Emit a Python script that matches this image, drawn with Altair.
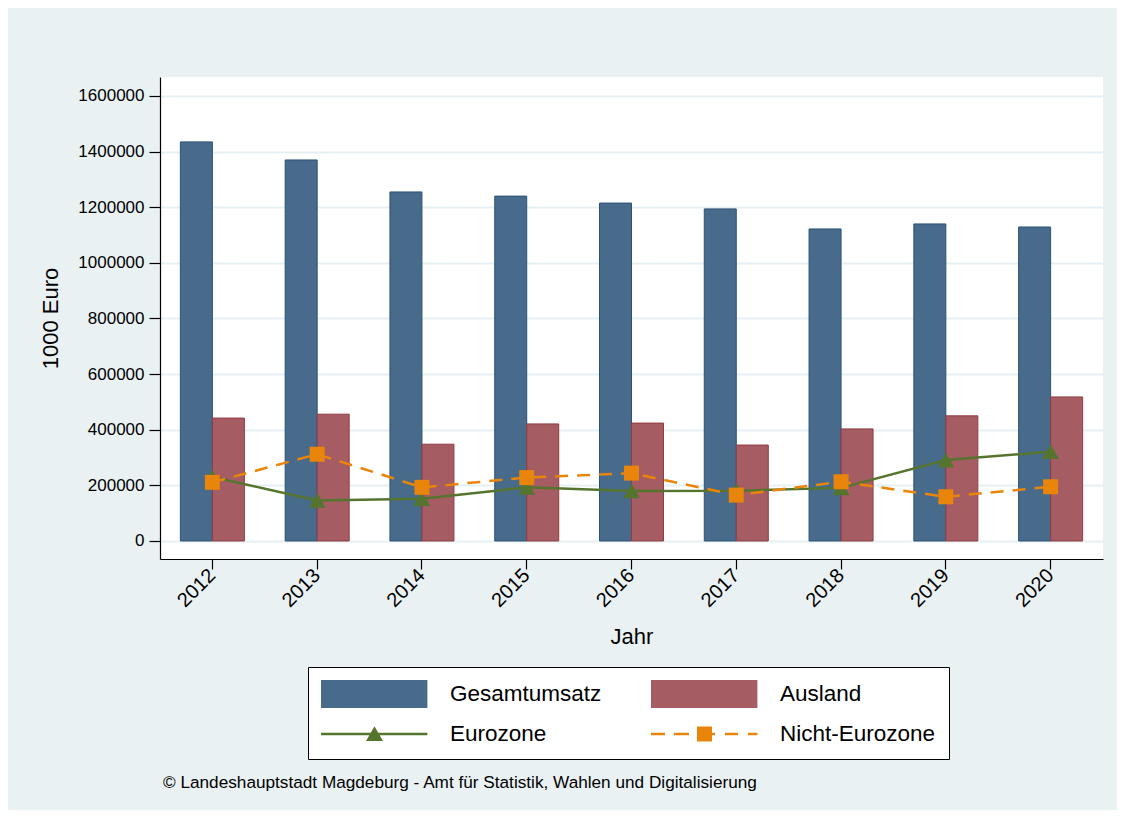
import altair as alt
import pandas as pd

# ---- data ----
years = ["2012", "2013", "2014", "2015", "2016", "2017", "2018", "2019", "2020"]
gesamtumsatz = [1435000, 1370000, 1255000, 1240000, 1215000, 1194000, 1122000, 1140000, 1129000]
ausland = [442000, 456000, 348000, 421000, 424000, 345000, 403000, 450000, 518000]
eurozone = [230000, 146000, 152000, 193000, 180000, 181000, 191000, 291000, 321000]
nicht_eurozone = [211000, 312000, 193000, 228000, 244000, 165000, 213000, 159000, 195000]

series_names = ["Gesamtumsatz", "Ausland", "Eurozone", "Nicht-Eurozone"]
series_colors = ["#486A8B", "#A55C62", "#55752F", "#E8850A"]
bar_strokes = ["#2A527A", "#923B43"]

y_ticks = list(range(0, 1600001, 100000))

FONT = "Liberation Sans"

df = pd.DataFrame({
    "Jahr": years,
    "Gesamtumsatz": gesamtumsatz,
    "Ausland": ausland,
    "Eurozone": eurozone,
    "Nicht-Eurozone": nicht_eurozone,
})
legend_df = pd.DataFrame({"Jahr": [years[0]] * 4, "Serie": series_names, "Wert": [0] * 4})

# custom legend symbols (unit = 14 px, symbolSize 784)
rect_path = "M-1,-1H6.6V1H-1Z"
euro_path = "M-1,-0.09H6.6V0.09H-1Z M2.214,0.5L2.821,-0.55L3.428,0.5Z"
nicht_path = ("M-1,-0.09H0V0.09H-1Z M0.643,-0.09H1.714V0.09H0.643Z "
              "M3.214,-0.09H3.571V0.09H3.214Z M4.286,-0.09H5.214V0.09H4.286Z "
              "M5.929,-0.09H6.6V0.09H5.929Z M2.286,-0.536H3.357V0.536H2.286Z")
legend_paths = [rect_path, rect_path, euro_path, nicht_path]

x_enc = alt.X(
    "Jahr:N",
    title="Jahr",
    sort=years,
    scale=alt.Scale(paddingInner=0, paddingOuter=0),
    axis=alt.Axis(
        labelAngle=-45, labelAlign="right", labelBaseline="middle",
        labelFontSize=20, labelPadding=3, tickSize=10,
        titleFontSize=22, titlePadding=16, grid=False,
    ),
)
y_scale = alt.Scale(domain=[-64720, 1668314], nice=False, zero=False)
y_axis = alt.Axis(
    values=y_ticks,
    labelExpr="datum.value % 200000 == 0 ? '' + datum.value : ''",
    labelFontSize=17, labelPadding=5, tickSize=11,
    titleFontSize=22, titlePadding=15,
    grid=True, gridColor="#E6EFF1", gridWidth=2,
)

base = alt.Chart(df)

bars_g = base.mark_bar(width=32, xOffset=-16, fill=series_colors[0], stroke=bar_strokes[0], strokeWidth=1).encode(
    x=x_enc,
    y=alt.Y("Gesamtumsatz:Q", title="1000 Euro", scale=y_scale, axis=y_axis),
)
bars_a = base.mark_bar(width=32, xOffset=16, fill=series_colors[1], stroke=bar_strokes[1], strokeWidth=1).encode(
    x=alt.X("Jahr:N", sort=years),
    y=alt.Y("Ausland:Q", title="1000 Euro"),
)
line_e = base.mark_line(color=series_colors[2], strokeWidth=2.5).encode(
    x=alt.X("Jahr:N", sort=years),
    y=alt.Y("Eurozone:Q", title="1000 Euro"),
)
pts_e = base.mark_point(shape="triangle-up", filled=True, size=289, color=series_colors[2], opacity=1).encode(
    x=alt.X("Jahr:N", sort=years),
    y=alt.Y("Eurozone:Q", title="1000 Euro"),
)
line_n = base.mark_line(color=series_colors[3], strokeWidth=2.5, strokeDash=[13, 9]).encode(
    x=alt.X("Jahr:N", sort=years),
    y=alt.Y("Nicht-Eurozone:Q", title="1000 Euro"),
)
pts_n = base.mark_point(shape="square", filled=True, size=225, color=series_colors[3], opacity=1).encode(
    x=alt.X("Jahr:N", sort=years),
    y=alt.Y("Nicht-Eurozone:Q", title="1000 Euro"),
)

legend_props = dict(
    title=None, orient="none", legendX=148, legendY=590, columns=2, direction="horizontal",
    padding=13, strokeColor="black", fillColor="white",
    symbolSize=784, symbolStrokeWidth=0, symbolOpacity=1,
    labelFontSize=22.5, labelFont=FONT, labelColor="black", labelOffset=101,
    labelLimit=400, columnPadding=49, rowPadding=12,
)
legend_layer = alt.Chart(legend_df).mark_point(filled=True, opacity=0).encode(
    x=alt.X("Jahr:N", sort=years),
    y=alt.Y("Wert:Q", title="1000 Euro"),
    color=alt.Color("Serie:N", scale=alt.Scale(domain=series_names, range=series_colors),
                    legend=alt.Legend(**legend_props)),
    shape=alt.Shape("Serie:N", scale=alt.Scale(domain=series_names, range=legend_paths),
                    legend=alt.Legend(**legend_props)),
)

chart = alt.layer(
    bars_g, bars_a, legend_layer, line_e, pts_e, line_n, pts_n
).properties(
    width=943,
    height=482,
    autosize=alt.AutoSizeParams(type="none"),
    padding={"left": 152, "top": 69, "right": 14, "bottom": 251},
    background="#EAF1F3",
    title=alt.TitleParams(
        text="©  Landeshauptstadt Magdeburg - Amt für Statistik, Wahlen und Digitalisierung",
        orient="bottom", anchor="start", frame="group", fontSize=17.2, font=FONT,
        fontWeight="normal", color="black", offset=14, dx=3,
    ),
).configure_view(
    fill="white", strokeWidth=0
).configure_axis(
    domainColor="black", domainWidth=1.2, tickColor="black", tickWidth=1.2,
    labelColor="black", titleColor="black", labelFont=FONT, titleFont=FONT,
    titleFontWeight="normal",
)

chart.save("out.html", embed_options={"renderer": "svg", "actions": False})
